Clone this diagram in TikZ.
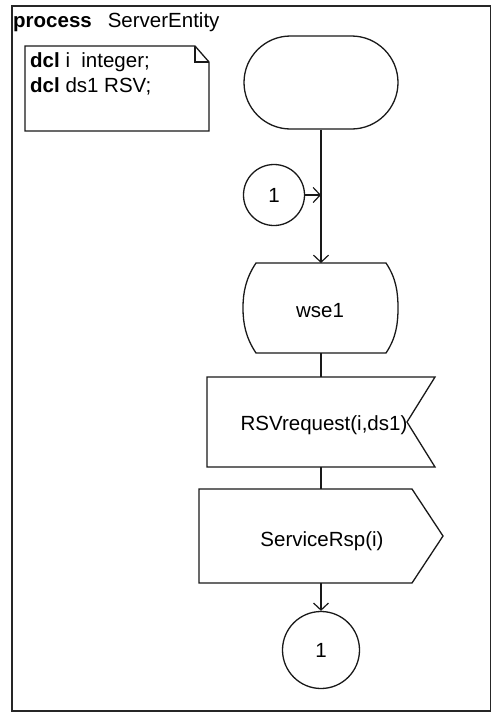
\documentclass[tikz,border=0pt]{standalone}
\usepackage{fontspec}
\setmainfont{Liberation Sans}
\usetikzlibrary{arrows.meta,shapes.misc}
\begin{document}
\begin{tikzpicture}[x=1pt,y=-1pt,
  txt/.style={font=\fontsize{20.5}{24}\selectfont, inner sep=0pt, anchor=base},
  shp/.style={draw=black!90, line width=1.3pt},
  flow/.style={draw=black!90, line width=1.2pt},
  arr/.style={flow, -{Straight Barb[length=7pt,width=15pt,line width=1.2pt]}}]
\useasboundingbox (0,0) rectangle (492,713);
% frame
\draw[line width=1.7pt, draw=black!85] (12,6) rectangle (490.5,711);
\node[txt, anchor=base west] (title) at (13,27) {\textbf{process}\hspace{16pt}ServerEntity};
% text symbol (note)
\draw[shp] (25,46) -- (195,46) -- (209,62) -- (209,131) -- (25,131) -- cycle;
\draw[shp] (195,46) -- (195,62) -- (209,62);
\node[txt, anchor=base west] (d1) at (30,67) {\textbf{dcl} i\ \ integer;};
\node[txt, anchor=base west] (d2) at (30,92) {\textbf{dcl} ds1 RSV;};
% start
\node[shp, rounded rectangle, minimum width=154pt, minimum height=93pt, inner sep=0pt] (start) at (321,82.5) {};
% connector in
\node[shp, circle, minimum size=61pt, inner sep=0pt, font=\fontsize{20.5}{24}\selectfont] (c1) at (274,195) {1};
\coordinate (j) at (321,195);
% state wse1
\coordinate (wseT) at (321,263);
\coordinate (wseB) at (321,353);
\draw[shp] (256,263) -- (386,263) .. controls (396,278) and (398,292) .. (398,308)
  .. controls (398,324) and (396,338) .. (386,353) -- (256,353)
  .. controls (246,338) and (243,324) .. (243,308)
  .. controls (243,292) and (246,278) .. (256,263) -- cycle;
\node[txt] (wse) at (320,317) {wse1};
% input RSVrequest
\coordinate (rsvT) at (321,377);
\coordinate (rsvB) at (321,467);
\draw[shp] (207,377) -- (435,377) -- (407,422) -- (435,467) -- (207,467) -- cycle;
\node[txt] (rsv) at (324,430) {RSVrequest(i,ds1)};
% output ServiceRsp
\coordinate (srvT) at (321,489);
\coordinate (srvB) at (321,583);
\draw[shp] (199,489) -- (412,489) -- (443,536) -- (412,583) -- (199,583) -- cycle;
\node[txt] (srv) at (322,546) {ServiceRsp(i)};
% connector out
\node[shp, circle, minimum size=77pt, inner sep=0pt, font=\fontsize{20.5}{24}\selectfont] (c2) at (321,650) {1};
% flow lines
\draw[arr] (start.south) -- (wseT);
\draw[arr] (c1.east) -- (j);
\draw[flow] (wseB) -- (rsvT);
\draw[flow] (rsvB) -- (srvT);
\draw[arr] (srvB) -- (c2.north);
\end{tikzpicture}
\end{document}
